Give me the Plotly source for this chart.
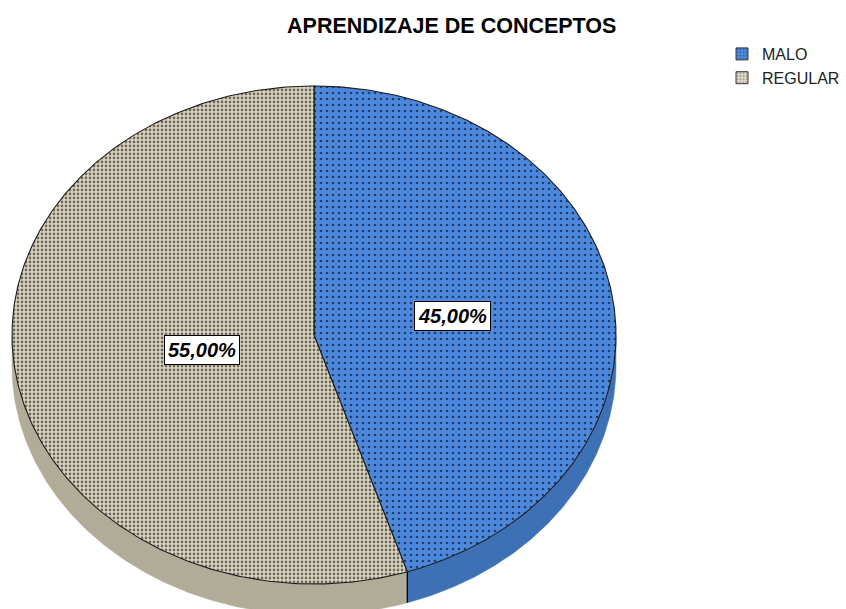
import numpy as np
import plotly.graph_objects as go

# ---- data ----
categories = ["MALO", "REGULAR"]
percentages = [45.0, 55.0]
label_texts = ["45,00%", "55,00%"]
title_text = "APRENDIZAJE DE CONCEPTOS"

# ---- styling / geometry (layout, not data) ----
top_colors = ["rgb(76,136,220)", "rgb(220,214,196)"]
dot_colors = ["rgb(35,62,110)", "rgb(110,105,90)"]
pat_size = [6, 4]
pat_sol = [0.16, 0.38]
side_colors = ["rgb(62,112,182)", "rgb(176,172,152)"]
cx, cy, rx, ry, depth = 314, 335, 302, 249, 31
W, H = 846, 609


def pt(t, dy=0.0):
    t = np.asarray(t)
    return cx + rx * np.sin(t), cy - ry * np.cos(t) + dy


fig = go.Figure()
total = sum(percentages)
bounds = np.cumsum([0] + percentages) / total * 2 * np.pi

# side walls (visible lower half: pi/2 .. 3pi/2)
for i, cat in enumerate(categories):
    a1, a2 = bounds[i], bounds[i + 1]
    lo, hi = max(a1, np.pi / 2), min(a2, 3 * np.pi / 2)
    if hi <= lo:
        continue
    t = np.linspace(lo, hi, 200)
    xt, yt = pt(t)
    xb, yb = pt(t[::-1], depth)
    xs = np.concatenate([xt, xb, xt[:1]])
    ys = np.concatenate([yt, yb, yt[:1]])
    fig.add_trace(go.Scatter(x=xs, y=ys, mode="lines", fill="toself",
                             fillcolor=side_colors[i],
                             line=dict(color=side_colors[i], width=0.5),
                             hoverinfo="skip", showlegend=False))

# vertical edges of the wall at slice boundaries in lower half
for b in bounds[:-1]:
    if np.pi / 2 < b < 3 * np.pi / 2:
        x0, y0 = pt(b)
        x1, y1 = pt(b, depth)
        fig.add_trace(go.Scatter(x=[x0, x1], y=[y0, y1], mode="lines",
                                 line=dict(color="black", width=1.3),
                                 hoverinfo="skip", showlegend=False))

# top faces
for i, cat in enumerate(categories):
    a1, a2 = bounds[i], bounds[i + 1]
    t = np.linspace(a1, a2, 300)
    xa, ya = pt(t)
    xs = np.concatenate([[cx], xa, [cx]])
    ys = np.concatenate([[cy], ya, [cy]])
    pattern = dict(shape=".", fgcolor=dot_colors[i], bgcolor=top_colors[i],
                   size=pat_size[i], solidity=pat_sol[i], fillmode="replace")
    fig.add_trace(go.Scatter(x=xs, y=ys, mode="lines", fill="toself",
                             fillcolor=top_colors[i], fillpattern=pattern,
                             line=dict(color="rgb(30,30,30)", width=1.1),
                             showlegend=False, hoverinfo="skip"))

# legend entries (patterned boxes)
for i, cat in enumerate(categories):
    fig.add_trace(go.Bar(x=[None], y=[None], name=cat,
                         marker=dict(color=top_colors[i],
                                     line=dict(color="rgb(60,60,60)", width=1),
                                     pattern=dict(shape=".", fgcolor=dot_colors[i],
                                                  bgcolor=top_colors[i], size=4,
                                                  solidity=0.3)),
                         hoverinfo="skip"))

# labels
for i, txt in enumerate(label_texts):
    mid = (bounds[i] + bounds[i + 1]) / 2
    lx = cx + rx * 0.42 * np.sin(mid) + 13
    ly = cy - ry * 0.43 * np.cos(mid) - 2
    fig.add_annotation(x=lx, y=ly, text="<b><i>%s</i></b>" % txt, showarrow=False,
                       font=dict(family="Liberation Sans, Arial", size=20, color="black"),
                       bgcolor="white", bordercolor="black", borderwidth=1, borderpad=3)

fig.update_layout(
    width=W, height=H,
    margin=dict(l=0, r=0, t=0, b=0),
    paper_bgcolor="white", plot_bgcolor="white",
    title=dict(text="<b>%s</b>" % title_text, x=0.534, xanchor="center",
               y=1 - 25 / H, yanchor="middle",
               font=dict(family="Liberation Sans, Arial", size=21.5, color="black")),
    xaxis=dict(range=[0, W], visible=False, fixedrange=True),
    yaxis=dict(range=[H, 0], visible=False, fixedrange=True),
    legend=dict(x=722 / W, y=1 - 37 / H, xanchor="left", yanchor="top",
                font=dict(family="Liberation Sans, Arial", size=16, color="#222"),
                tracegroupgap=0, itemwidth=30, bgcolor="rgba(0,0,0,0)",
                traceorder="normal"),
    showlegend=True,
    barmode="overlay",
)

fig.write_html("out.html", config={"displayModeBar": False},
               post_script="document.body.style.margin='0';document.body.style.overflow='hidden';")
